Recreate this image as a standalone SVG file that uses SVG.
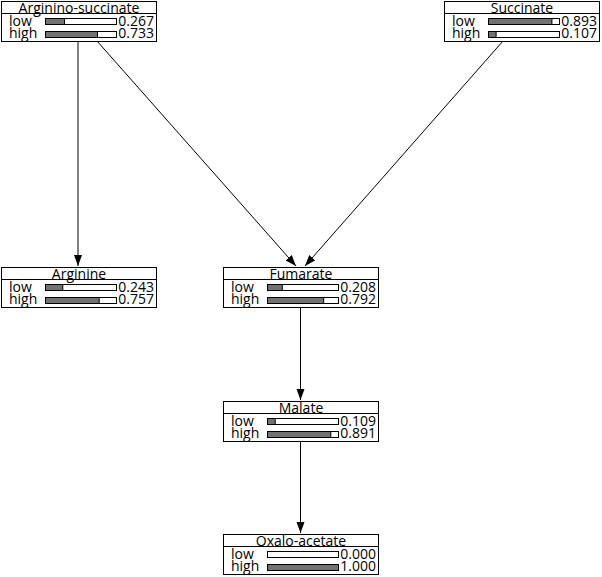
<svg xmlns="http://www.w3.org/2000/svg" width="602" height="577" viewBox="0 0 602 577">
<defs>
<style>
.box{fill:#fff;stroke:#000;stroke-width:1}
.sep{stroke:#000;stroke-width:1}
.bar{fill:#fff;stroke:#000;stroke-width:1}
.fill{fill:#727272;stroke:#000;stroke-width:1}
.t{font-family:"Open Sans","Noto Sans",sans-serif;font-size:14px;fill:#000}
.title{text-anchor:middle}
.val{text-anchor:end}
.edge{stroke:#000;stroke-width:1;fill:none;marker-end:url(#arr)}
</style>
<marker id="arr" markerWidth="12" markerHeight="10" refX="11" refY="4" orient="auto" markerUnits="userSpaceOnUse">
<path d="M0,0 L11,4 L0,8 Z" fill="#000"/>
</marker>
</defs>
<g id="connectors">
<line class="edge" x1="78" y1="41" x2="78" y2="266"/>
<line class="edge" x1="97" y1="41" x2="296" y2="266"/>
<line class="edge" x1="503" y1="41" x2="305" y2="266"/>
<line class="edge" x1="300.5" y1="307" x2="300.5" y2="400"/>
<line class="edge" x1="300.5" y1="441" x2="300.5" y2="533"/>
</g>
<g id="arginino-succinate" transform="translate(1,1)">
<rect class="box" x="0.5" y="0.5" width="155" height="40"/>
<line class="sep" x1="0.5" y1="12.5" x2="155.5" y2="12.5"/>
<text class="t title" x="78" y="11.5">Arginino-succinate</text>
<text class="t" x="8" y="25">low</text>
<text class="t" x="8" y="37">high</text>
<rect class="bar" x="44.5" y="17.5" width="71" height="6"/>
<rect class="fill" x="44.5" y="17.5" width="19" height="6"/>
<rect class="bar" x="44.5" y="30.5" width="71" height="6"/>
<rect class="fill" x="44.5" y="30.5" width="52" height="6"/>
<text class="t val" x="153" y="25">0.267</text>
<text class="t val" x="153" y="37">0.733</text>
</g>
<g id="succinate" transform="translate(444,1)">
<rect class="box" x="0.5" y="0.5" width="155" height="40"/>
<line class="sep" x1="0.5" y1="12.5" x2="155.5" y2="12.5"/>
<text class="t title" x="78" y="11.5">Succinate</text>
<text class="t" x="8" y="25">low</text>
<text class="t" x="8" y="37">high</text>
<rect class="bar" x="44.5" y="17.5" width="71" height="6"/>
<rect class="fill" x="44.5" y="17.5" width="63.4" height="6"/>
<rect class="bar" x="44.5" y="30.5" width="71" height="6"/>
<rect class="fill" x="44.5" y="30.5" width="7.6" height="6"/>
<text class="t val" x="153" y="25">0.893</text>
<text class="t val" x="153" y="37">0.107</text>
</g>
<g id="arginine" transform="translate(1,267)">
<rect class="box" x="0.5" y="0.5" width="155" height="40"/>
<line class="sep" x1="0.5" y1="12.5" x2="155.5" y2="12.5"/>
<text class="t title" x="78" y="11.5">Arginine</text>
<text class="t" x="8" y="25">low</text>
<text class="t" x="8" y="37">high</text>
<rect class="bar" x="44.5" y="17.5" width="71" height="6"/>
<rect class="fill" x="44.5" y="17.5" width="17.3" height="6"/>
<rect class="bar" x="44.5" y="30.5" width="71" height="6"/>
<rect class="fill" x="44.5" y="30.5" width="53.7" height="6"/>
<text class="t val" x="153" y="25">0.243</text>
<text class="t val" x="153" y="37">0.757</text>
</g>
<g id="fumarate" transform="translate(223,267)">
<rect class="box" x="0.5" y="0.5" width="155" height="40"/>
<line class="sep" x1="0.5" y1="12.5" x2="155.5" y2="12.5"/>
<text class="t title" x="78" y="11.5">Fumarate</text>
<text class="t" x="8" y="25">low</text>
<text class="t" x="8" y="37">high</text>
<rect class="bar" x="44.5" y="17.5" width="71" height="6"/>
<rect class="fill" x="44.5" y="17.5" width="14.8" height="6"/>
<rect class="bar" x="44.5" y="30.5" width="71" height="6"/>
<rect class="fill" x="44.5" y="30.5" width="56.2" height="6"/>
<text class="t val" x="153" y="25">0.208</text>
<text class="t val" x="153" y="37">0.792</text>
</g>
<g id="malate" transform="translate(223,401)">
<rect class="box" x="0.5" y="0.5" width="155" height="40"/>
<line class="sep" x1="0.5" y1="12.5" x2="155.5" y2="12.5"/>
<text class="t title" x="78" y="11.5">Malate</text>
<text class="t" x="8" y="25">low</text>
<text class="t" x="8" y="37">high</text>
<rect class="bar" x="44.5" y="17.5" width="71" height="6"/>
<rect class="fill" x="44.5" y="17.5" width="7.7" height="6"/>
<rect class="bar" x="44.5" y="30.5" width="71" height="6"/>
<rect class="fill" x="44.5" y="30.5" width="63.3" height="6"/>
<text class="t val" x="153" y="25">0.109</text>
<text class="t val" x="153" y="37">0.891</text>
</g>
<g id="oxalo-acetate" transform="translate(223,534)">
<rect class="box" x="0.5" y="0.5" width="155" height="40"/>
<line class="sep" x1="0.5" y1="12.5" x2="155.5" y2="12.5"/>
<text class="t title" x="78" y="11.5">Oxalo-acetate</text>
<text class="t" x="8" y="25">low</text>
<text class="t" x="8" y="37">high</text>
<rect class="bar" x="44.5" y="17.5" width="71" height="6"/>
<rect class="bar" x="44.5" y="30.5" width="71" height="6"/>
<rect class="fill" x="44.5" y="30.5" width="71" height="6"/>
<text class="t val" x="153" y="25">0.000</text>
<text class="t val" x="153" y="37">1.000</text>
</g>
</svg>
